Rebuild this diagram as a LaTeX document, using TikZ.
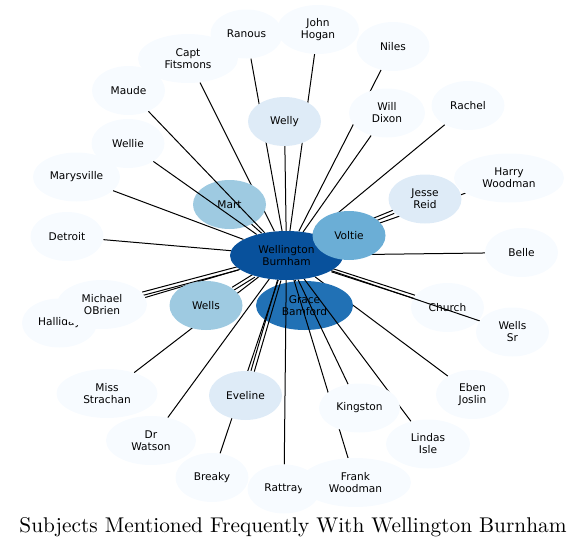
\documentclass[tikz,border=0pt]{standalone}
\usepackage{fontspec}
\usepackage{graphicx}
\usetikzlibrary{shapes.geometric}
\newfontfamily\nodefont{DejaVu Sans}
\definecolor{bzero}{HTML}{F7FBFF}
\definecolor{bone}{HTML}{DEEBF7}
\definecolor{btwo}{HTML}{9ECAE1}
\definecolor{bthree}{HTML}{6BAED6}
\definecolor{bfour}{HTML}{2171B5}
\definecolor{bfive}{HTML}{08519C}
\pgfdeclarelayer{elow}
\pgfdeclarelayer{nlow}
\pgfdeclarelayer{ehigh}
\pgfsetlayers{elow,nlow,ehigh,main}
\tikzset{
  nd/.style={ellipse, inner sep=0pt, minimum height=49pt, minimum width=73pt, align=center,
    font={\nodefont\fontsize{10.6}{12}\selectfont}, text=black, fill=bzero},
  ed/.style={line width=1pt, black},
}
\begin{document}
\begin{tikzpicture}[x=1pt,y=-1pt]
\useasboundingbox (0,0) rectangle (587,549);
% nodes under edges
\begin{pgfonlayer}{nlow}
\node[nd, fill=btwo] (mart) at (229.5,204.5) {Mart};
\node[nd] (church) at (447.5,307.5) {Church};
\node[nd, fill=bfour, minimum width=97pt] (grace) at (304.5,305.5) {Grace\\Bamford};
\end{pgfonlayer}
% nodes on top
\node[nd, minimum width=72pt] (ranous) at (246.5,34) {Ranous};
\node[nd, minimum width=100pt] (capt) at (188,58.5) {Capt\\Fitsmons};
\node[nd, minimum width=82pt] (hogan) at (318,29.5) {John\\Hogan};
\node[nd] (niles) at (393,46.5) {Niles};
\node[nd, minimum width=76pt] (dixon) at (387,113) {Will\\Dixon};
\node[nd] (maude) at (128.5,90.5) {Maude};
\node[nd] (wellie) at (128,143.5) {Wellie};
\node[nd, minimum width=87pt] (marys) at (76.5,177) {Marysville};
\node[nd] (rachel) at (468,105.5) {Rachel};
\node[nd, minimum width=110pt] (harry) at (509,178) {Harry\\Woodman};
\node[nd] (detroit) at (67,236.5) {Detroit};
\node[nd] (belle) at (521.5,252.5) {Belle};
\node[nd, minimum width=75pt] (halliday) at (59.5,323) {Halliday};
\node[nd, minimum width=90pt] (michael) at (102,304.5) {Michael\\OBrien};
\node[nd] (wellssr) at (512.5,332) {Wells\\Sr};
\node[nd, minimum width=101pt] (strachan) at (107,393.5) {Miss\\Strachan};
\node[nd, minimum width=90pt] (watson) at (151,440.5) {Dr\\Watson};
\node[nd] (eben) at (472.5,394.5) {Eben\\Joslin};
\node[nd, minimum width=81pt] (kingston) at (359.5,408) {Kingston};
\node[nd, minimum width=84pt] (lindas) at (428,444) {Lindas\\Isle};
\node[nd] (breaky) at (212,477.5) {Breaky};
\node[nd] (rattray) at (284,489) {Rattray};
\node[nd, minimum width=111pt] (frank) at (355.5,482.5) {Frank\\Woodman};
\node[nd, fill=bone] (welly) at (284.5,121.5) {Welly};
\node[nd, fill=bone] (jesse) at (425,199) {Jesse\\Reid};
\node[nd, fill=bone] (eveline) at (245.5,395.5) {Eveline};
\node[nd, fill=btwo] (wells) at (206,305.5) {Wells};
\node[nd, fill=bfive, minimum width=113pt] (wb) at (286.5,255.5) {Wellington\\Burnham};
\node[nd, fill=bthree] (voltie) at (349,235.5) {Voltie};
% title
\node (title) at (293,527) {\scalebox{2.13}{\fontsize{10}{12}\selectfont Subjects Mentioned Frequently With Wellington Burnham}};
% edges below the low nodes
\begin{pgfonlayer}{elow}
\draw[ed] (wb) -- (capt);
\draw[ed] (wb) -- (eben);
\end{pgfonlayer}
% edges above the low nodes
\begin{pgfonlayer}{ehigh}
\foreach \n in {mart,grace,ranous,hogan,niles,dixon,maude,wellie,marys,rachel,harry,detroit,belle,halliday,wellssr,strachan,watson,kingston,lindas,breaky,rattray,frank,welly,voltie}
  \draw[ed] (wb) -- (\n);
\draw[ed, transform canvas={shift={(0.64,1.57)}}] (wb) -- (jesse);
\draw[ed, transform canvas={shift={(-0.64,-1.57)}}] (wb) -- (jesse);
\draw[ed, transform canvas={shift={(0.44,1.64)}}] (wb) -- (michael);
\draw[ed, transform canvas={shift={(-0.44,-1.64)}}] (wb) -- (michael);
\draw[ed, transform canvas={shift={(0.90,1.44)}}] (wb) -- (wells);
\draw[ed, transform canvas={shift={(-0.90,-1.44)}}] (wb) -- (wells);
\draw[ed, transform canvas={shift={(1.63,0.48)}}] (wb) -- (eveline);
\draw[ed, transform canvas={shift={(-1.63,-0.48)}}] (wb) -- (eveline);
\draw[ed, transform canvas={shift={(0.52,-1.62)}}] (wb) -- (church);
\draw[ed, transform canvas={shift={(-0.52,1.62)}}] (wb) -- (church);
\end{pgfonlayer}
\end{tikzpicture}
\end{document}
